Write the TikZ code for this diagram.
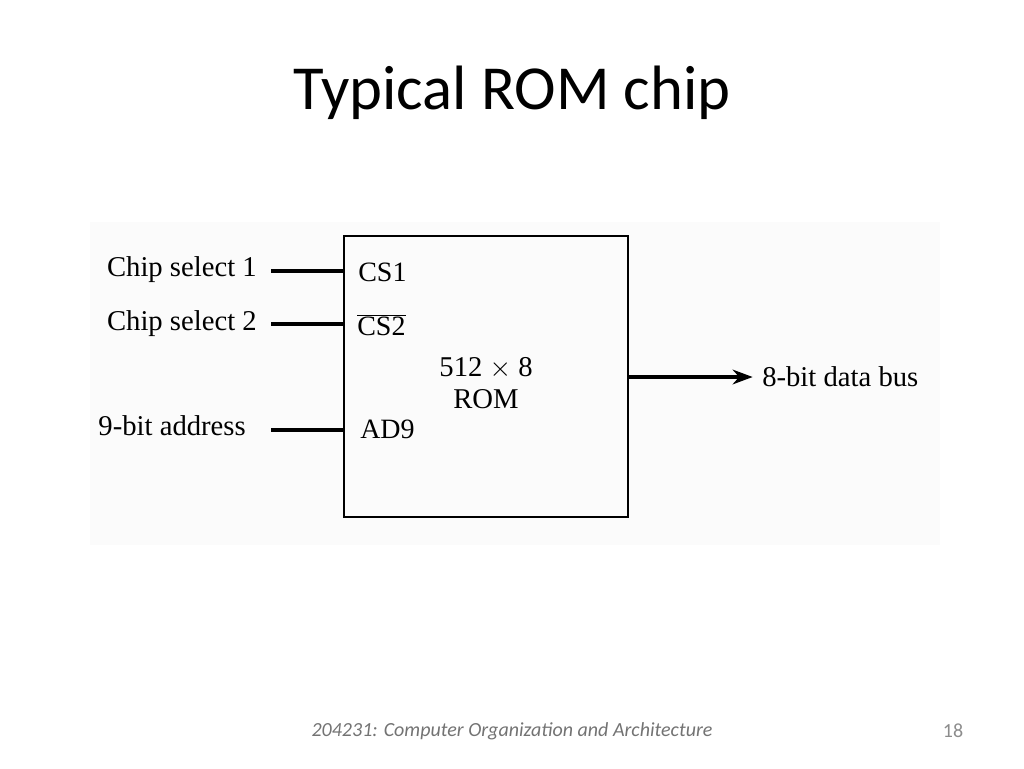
\documentclass[tikz,border=0pt]{standalone}
\usepackage{fontspec}
\setmainfont{Liberation Serif}
\newfontfamily\slidefont{Carlito}
\usetikzlibrary{arrows.meta}
\begin{document}
\begin{tikzpicture}[x=0.75pt,y=-0.75pt,
  lbl/.style={font=\fontsize{21.5}{24}\selectfont, inner sep=0pt},
  wire/.style={line width=3pt},
  chip/.style={draw, line width=1.4pt, minimum width=213pt, minimum height=210.75pt, inner sep=0pt},
  pin/.style={font=\fontsize{21}{24}\selectfont, inner sep=0pt, anchor=west}]
\useasboundingbox (0,0) rectangle (1024,768);
\fill[black!1.5] (90,222) rectangle (940,545);
\node[font=\slidefont\fontsize{47}{52}\selectfont, inner sep=0pt] (title) at (512,93) {Typical ROM chip};
\node[chip] (rom) at (486,376.5) {};
\node[lbl, align=center] (size) at (486,383) {512 $\times$ 8\\[0pt]ROM};
\node[pin] (cs1) at (358,272) {CS1};
\node[pin] (cs2) at (357,325) {$\overline{\vphantom{T}\mbox{CS2}}$};
\node[pin] (ad9) at (360,429) {AD9};
\coordinate (w1) at (271,271);
\coordinate (w2) at (271,324);
\coordinate (w3) at (271,430);
\node[lbl, anchor=east] (l1) at (257,270) {Chip select 1};
\node[lbl, anchor=east] (l2) at (257,324) {Chip select 2};
\node[lbl, anchor=east] (l3) at (246,426) {9-bit address};
\draw[wire] (w1) -- (w1 -| rom.west);
\draw[wire] (w2) -- (w2 -| rom.west);
\draw[wire] (w3) -- (w3 -| rom.west);
\node[lbl, anchor=west] (bus) at (762,377) {8-bit data bus};
\draw[wire, -{Stealth[length=15pt,width=11pt]}] (rom.east |- bus.west) -- ([xshift=-7pt]bus.west);
\node[font=\slidefont\itshape\fontsize{15}{18}\selectfont, text=black!55, inner sep=0pt] (foot) at (512,731) {204231: Computer Organization and Architecture};
\node[font=\slidefont\fontsize{15}{18}\selectfont, text=black!45, inner sep=0pt] (page) at (953,731) {18};
\end{tikzpicture}
\end{document}
